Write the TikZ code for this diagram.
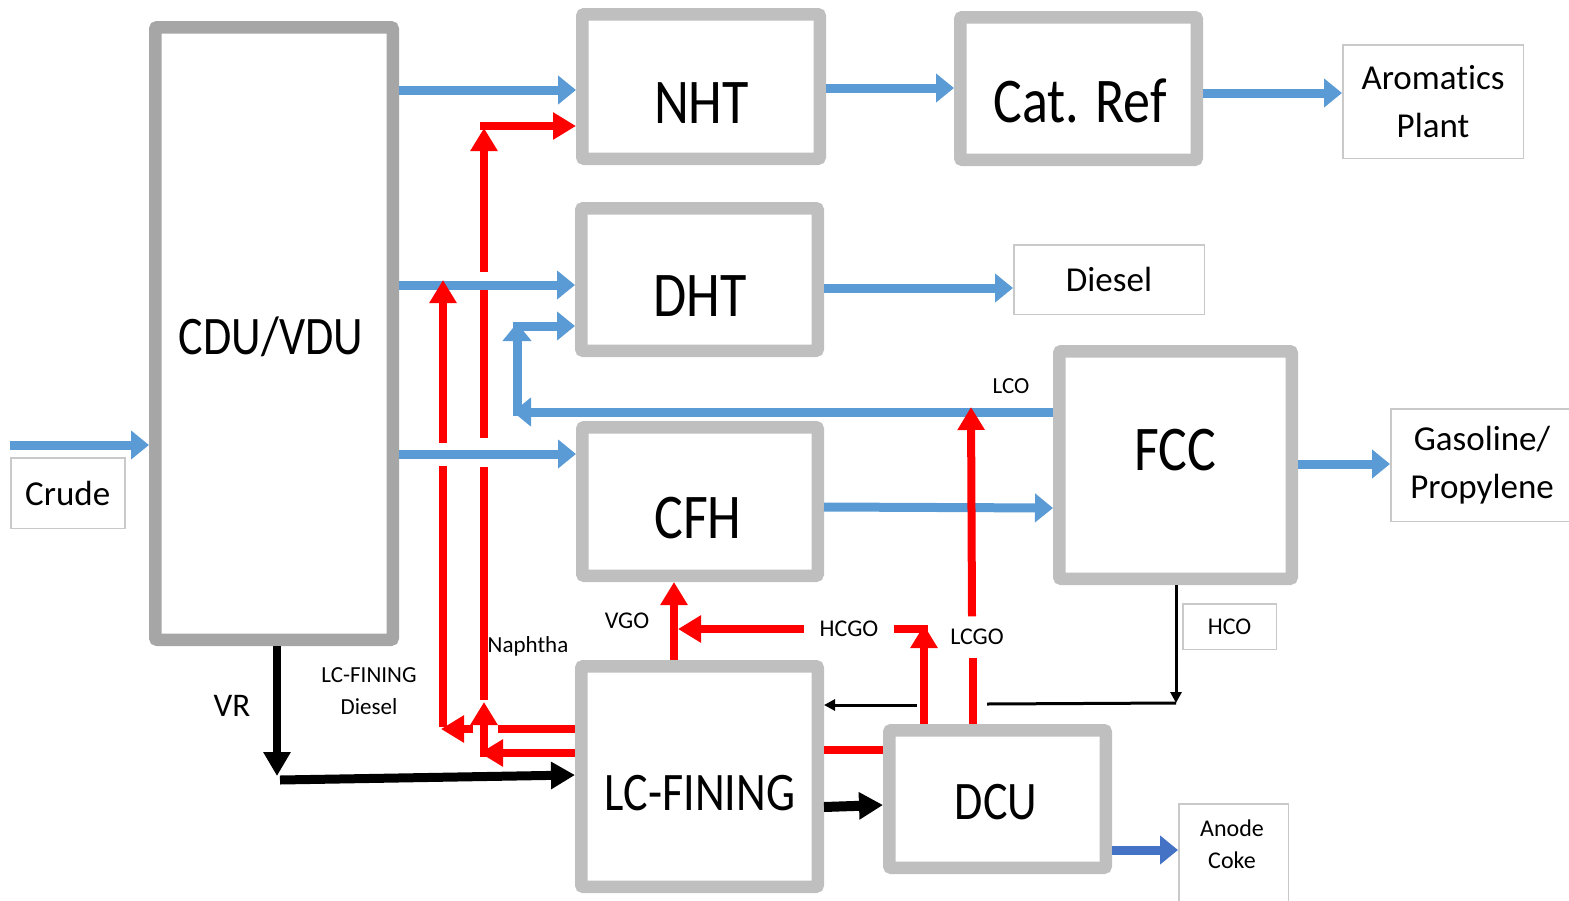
\documentclass[tikz,border=0pt]{standalone}
\usepackage{fontspec}
\setmainfont{Carlito}[RawFeature={-liga;-clig;-calt;-dlig}]
\usepackage{graphicx}
\usepackage{tikz}
\usetikzlibrary{arrows.meta, positioning, calc}
\definecolor{unitgray}{HTML}{BFBFBF}
\definecolor{towergray}{HTML}{A6A6A6}
\definecolor{boxline}{HTML}{C9C9C9}
\definecolor{flowblue}{HTML}{5B9BD5}
\definecolor{cokeblue}{HTML}{4472C4}
\newcommand{\tall}[1]{\scalebox{1}[1.18]{#1}}

\begin{document}
\begin{tikzpicture}[
  x=1pt, y=-1pt,
  unit/.style={draw=unitgray,line width=12.5pt,rounded corners=2pt,inner sep=0pt,outer sep=6.25pt},
  tower/.style={unit,draw=towergray},
  unitname/.style={inner sep=0pt,font=\fontsize{54}{60}\selectfont},
  unitsmall/.style={inner sep=0pt,font=\fontsize{46}{52}\selectfont},
  product/.style={draw=boxline,line width=1.5pt,align=center,inner sep=0pt,font=\fontsize{35}{48}\selectfont},
  tag/.style={inner sep=0pt,align=center,font=\fontsize{23}{32}\selectfont},
  flow/.style={draw=flowblue,line width=9pt,-{Triangle[length=18pt,width=28pt]}},
  feed/.style={draw=red,line width=8pt,-{Triangle[length=23pt,width=26pt]}},
  feedline/.style={draw=red,line width=8pt},
  resid/.style={draw=black,line width=9pt,-{Triangle[length=24pt,width=26pt]}},
  recycle/.style={draw=black,line width=3pt,-{Triangle[length=11pt,width=11pt]}}
]
\useasboundingbox (0,0) rectangle (1569,900);

\node[tower,minimum width=237.5pt,minimum height=612.5pt] (cdu) at (274,333.5) {};
\node[unit,minimum width=237.5pt,minimum height=144.5pt] (nht) at (701,86.5) {};
\node[unit,minimum width=236.5pt,minimum height=142.5pt] (catref) at (1078.5,88.5) {};
\node[unit,minimum width=236.5pt,minimum height=142.5pt] (dht) at (699.5,279.5) {};
\node[unit,minimum width=235.5pt,minimum height=148.5pt] (cfh) at (700,501.5) {};
\node[unit,minimum width=232.5pt,minimum height=227.5pt] (fcc) at (1175.5,465) {};
\node[unit,minimum width=236.5pt,minimum height=220.5pt] (lcf) at (699.5,776.5) {};
\node[unit,minimum width=216.5pt,minimum height=137.5pt] (dcu) at (997.5,799) {};

\node[unitsmall] (cdu-name) at (271,337) {\tall{CDU/VDU}};
\node[unitname] (nht-name) at (701.5,103) {\tall{NHT}};
\node[unitname] (catref-name) at (1080,101) {\tall{Cat. Ref}};
\node[unitname] (dht-name) at (700,296) {\tall{DHT}};
\node[unitname] (cfh-name) at (698,518) {\tall{CFH}};
\node[unitname] (fcc-name) at (1175,450) {\tall{FCC}};
\node[unitsmall] (lcf-name) at (700,793) {\tall{LC-FINING}};
\node[unitsmall] (dcu-name) at (996,802) {\tall{DCU}};

\node[product,minimum width=180.5pt,minimum height=113.5pt] (arom) at (1433,101.5) {Aromatics\\Plant};
\node[product,minimum width=190.5pt,minimum height=69.5pt] (diesel) at (1109,279.5) {Diesel};
\node[product,minimum width=182.5pt,minimum height=112.5pt] (gasoline) at (1482,465) {Gasoline/\\Propylene};
\node[product,minimum width=114pt,minimum height=70.5pt] (crude) at (67.75,493) {Crude};
\node[product,minimum width=93.5pt,minimum height=45.5pt,font=\fontsize{24}{32}\selectfont] (hco) at (1229.5,626.5) {HCO};
\node[product,anchor=north,minimum width=109.5pt,minimum height=113.5pt] (anode) at (1233.5,803) {};
\node[tag,font=\fontsize{24}{32}\selectfont] (anode-name) at (1232,844) {Anode\\Coke};

\node[tag] (lco) at (1011,386) {LCO};
\node[tag] (naphtha) at (528,646) {Naphtha};
\node[tag,font=\fontsize{24}{30}\selectfont] (vgo) at (627,621) {VGO};
\node[tag,font=\fontsize{24}{30}\selectfont,inner xsep=15.5pt] (hcgo) at (849,629) {HCGO};
\node[tag,font=\fontsize{24}{30}\selectfont,inner ysep=12.5pt] (lcgo) at (977,637) {LCGO};
\node[tag] (lcf-diesel) at (369,691) {LC-FINING\\Diesel};
\node[tag,font=\fontsize{33}{40}\selectfont] (vr) at (232,706) {VR};

\coordinate (crude-in) at (10,445);
\coordinate (lco-low) at (517,412);
\coordinate (lco-up) at (517,326);
\coordinate (vr-bend) at (277,776);
\coordinate (vr-start) at (280,780);
\coordinate (hco-bend) at (1176,703);
\coordinate (hcgo-bend) at (924,629);
\coordinate (lcgo-top) at (971,407);
\coordinate (diesel-low) at (443,729);
\coordinate (naphtha-low) at (484,753);

\draw[flow] (crude-in) -- (cdu.west |- crude-in);
\draw[flow] (cdu.east |- 0,90) -- (nht.west |- 0,90);
\draw[flow] (nht.east |- 0,88) -- (catref.west |- 0,88);
\draw[flow] (catref.east |- 0,93) -- (arom.west |- 0,93);
\draw[flow] (cdu.east |- 0,285) -- (dht.west |- 0,285);
\draw[flow] (dht.east |- 0,288) -- (diesel.west |- 0,288);
\draw[flow] (cdu.east |- 0,454) -- (cfh.west |- 0,454);
\draw[flow] (cfh.east |- 0,507) -- (fcc.west |- 0,508);
\draw[flow] (fcc.east |- 0,464) -- (gasoline.west |- 0,464);
\draw[flow] (fcc.west |- lco-low) -- ([xshift=-4pt]lco-low);
\draw[flow] ([yshift=-4pt]lco-low) -- ([yshift=3pt]lco-up);
\draw[flow] ([xshift=-4.5pt]lco-up) -- (dht.west |- lco-up);
\draw[flow,draw=cokeblue] (dcu.east |- 0,850) -- (anode.west |- 0,850);

\draw[resid,line width=8pt] (cdu.south -| vr-bend) -- (vr-bend);
\draw[resid] (vr-start) -- (lcf.west |- 0,775);
\draw[resid,line width=10pt] (lcf.east |- 0,807) -- (dcu.west |- 0,805);
\draw[recycle] (fcc.south -| hco-bend) -- (hco-bend);
\draw[line width=3pt] (hco-bend) -- (987,704);
\draw[recycle] (917,705) -- (lcf.east |- 0,705);

\draw[feed] (lcf.north -| 674,0) -- (cfh.south -| 674,0);
\draw[feed] (dcu.north -| hcgo-bend) -- ([yshift=4pt]hcgo-bend);
\draw[feedline] ([xshift=4pt]hcgo-bend) -- (hcgo.east);
\draw[feed] (hcgo.west) -- (678,629);
\draw[feedline] (dcu.north -| 973,0) -- (lcgo.south -| 973,0);
\draw[feed] (lcgo.north -| 972,0) -- (lcgo-top);
\draw[feedline] (lcf.east |- 0,750) -- (dcu.west |- 0,750);

\draw[feedline] (lcf.west |- diesel-low) -- (498,729);
\draw[feed] (473,729) -- (441,729);
\draw[feedline] (443,727) -- (443,466);
\draw[feed] (443,443) -- (443,280);

\draw[feed] (lcf.west |- naphtha-low) -- (480,753);
\draw[feed] (484,757) -- (484,702);
\draw[feedline] (484,700) -- (484,467);
\draw[feedline] (484,438) -- (484,290);
\draw[feed] (484,272) -- (484,128);
\draw[feed] (480,126) -- (nht.west |- 0,126);
\end{tikzpicture}
\end{document}
